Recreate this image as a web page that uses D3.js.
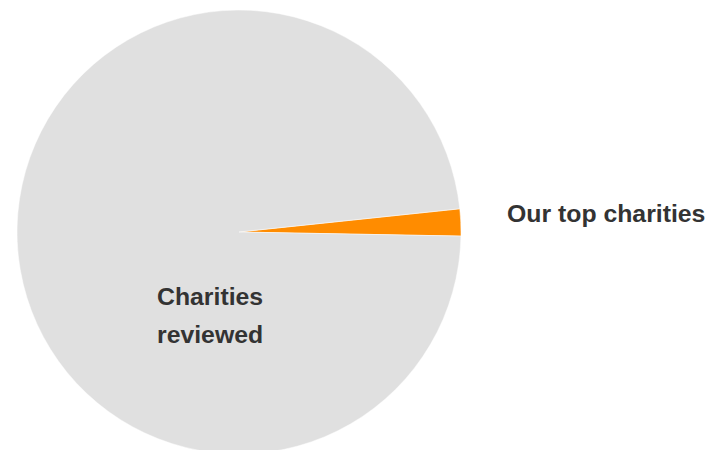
<!DOCTYPE html>
<html>
<head>
<meta charset="utf-8">
<script src="https://cdn.jsdelivr.net/npm/d3@7.9.0/dist/d3.min.js"></script>
<style>
  body { margin: 0; background: #fff; }
  text { font-family: "Liberation Sans", Arial, sans-serif; font-weight: bold; fill: #333; font-size: 24.8px; }
</style>
</head>
<body>
<svg id="chart" width="707" height="450"></svg>
<script>
const labels = ['Our top charities', 'Charities reviewed'];
const counts = [8, 400];
const colors = ['#ff8c00', '#e0e0e0'];

const width = 707, height = 450;
const cx = 239, cy = 232, radius = 222;

const svg = d3.select('#chart');
const g = svg.append('g').attr('transform', `translate(${cx},${cy})`);

const start = 84 * Math.PI / 180;
let pie = d3.pie().sort(null).value(d => d).startAngle(start).endAngle(start + 2 * Math.PI);
let arcGenerator = d3.arc().innerRadius(0).outerRadius(radius);
let arcData = pie(counts);

arcData.forEach((d, i) => {
    g.append('path')
        .attr('d', arcGenerator(d))
        .attr('fill', colors[i])
        .attr('stroke', '#fff')
        .attr('stroke-width', 0.5);
});

// labels
svg.append('text')
    .attr('x', 507)
    .attr('y', 222)
    .text(labels[0]);

let t = svg.append('text').attr('x', 157).attr('y', 305);
t.append('tspan').attr('x', 157).text('Charities');
t.append('tspan').attr('x', 157).attr('dy', 38).text('reviewed');
</script>
</body>
</html>
